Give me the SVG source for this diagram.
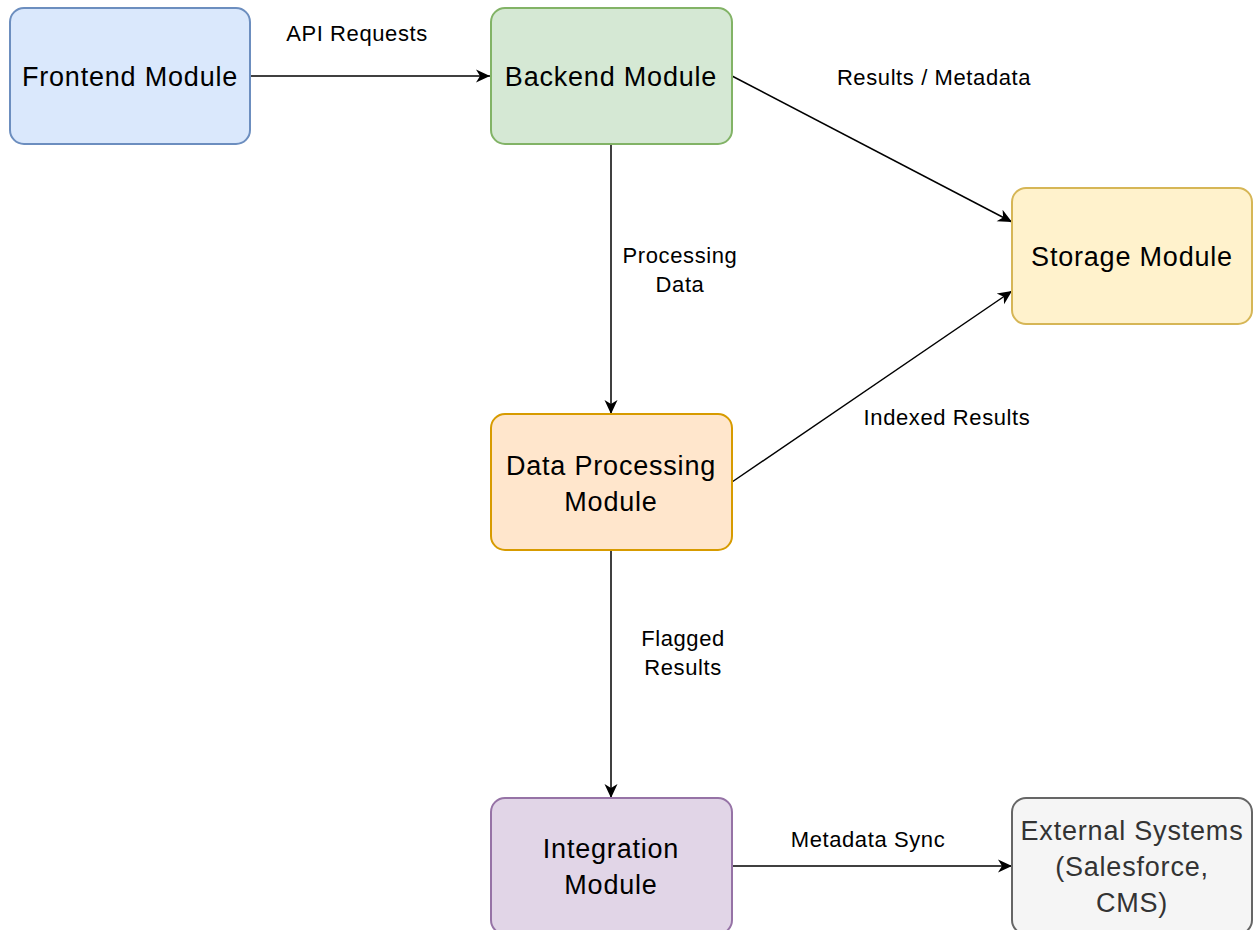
<svg xmlns="http://www.w3.org/2000/svg" width="1255" height="930" viewBox="0 0 1255 930">
<style>
.node rect{stroke-width:2}
.nt{font-family:"Liberation Sans",Arial,Helvetica,sans-serif;font-size:27px;fill:#000;text-anchor:middle;letter-spacing:0.8px}
.el{font-family:"Liberation Sans",Arial,Helvetica,sans-serif;font-size:22px;fill:#000;text-anchor:middle;letter-spacing:0.6px}
.edge{fill:none;stroke:#000;stroke-width:1.5}
</style>
<defs>
<marker id="arr" markerUnits="userSpaceOnUse" markerWidth="16" markerHeight="16" viewBox="0 0 16 16" refX="14" refY="8" orient="auto">
<path d="M0,1.5 L14,8 L0,14.5 L4,8 z" fill="#000"/>
</marker>
</defs>
<rect width="1255" height="930" fill="#fff"/>
<g id="connectors">
<line class="edge" x1="250" y1="76" x2="490" y2="76" marker-end="url(#arr)"/>
<line class="edge" x1="732" y1="76" x2="1012" y2="222" marker-end="url(#arr)"/>
<line class="edge" x1="611" y1="144" x2="611" y2="414" marker-end="url(#arr)"/>
<line class="edge" x1="732" y1="482" x2="1012" y2="291" marker-end="url(#arr)"/>
<line class="edge" x1="611" y1="550" x2="611" y2="798" marker-end="url(#arr)"/>
<line class="edge" x1="732" y1="866" x2="1012" y2="866" marker-end="url(#arr)"/>
<text class="el" x="357" y="41">API Requests</text>
<text class="el" x="934" y="85">Results / Metadata</text>
<text class="el" x="680" y="263">Processing</text>
<text class="el" x="680" y="292">Data</text>
<text class="el" x="947" y="425">Indexed Results</text>
<text class="el" x="683" y="646">Flagged</text>
<text class="el" x="683" y="675">Results</text>
<text class="el" x="868" y="847">Metadata Sync</text>
</g>
<g id="frontend" class="node">
<rect x="10" y="8" width="240" height="136" rx="14" fill="#dae8fc" stroke="#6c8ebf"/>
<text class="nt" x="130" y="86">Frontend Module</text>
</g>
<g id="backend" class="node">
<rect x="491" y="8" width="241" height="136" rx="14" fill="#d5e8d4" stroke="#82b366"/>
<text class="nt" x="611" y="86">Backend Module</text>
</g>
<g id="storage" class="node">
<rect x="1012" y="188" width="240" height="136" rx="14" fill="#fff2cc" stroke="#d6b656"/>
<text class="nt" x="1132" y="266">Storage Module</text>
</g>
<g id="dataprocessing" class="node">
<rect x="491" y="414" width="241" height="136" rx="14" fill="#ffe6cc" stroke="#d79b00"/>
<text class="nt" x="611" y="475">Data Processing</text>
<text class="nt" x="611" y="511">Module</text>
</g>
<g id="integration" class="node">
<rect x="491" y="798" width="241" height="136" rx="14" fill="#e1d5e7" stroke="#9673a6"/>
<text class="nt" x="611" y="858">Integration</text>
<text class="nt" x="611" y="894">Module</text>
</g>
<g id="external" class="node">
<rect x="1012" y="798" width="240" height="136" rx="14" fill="#f5f5f5" stroke="#666666"/>
<text class="nt" x="1132" y="840" style="fill:#333333">External Systems</text>
<text class="nt" x="1132" y="876" style="fill:#333333">(Salesforce,</text>
<text class="nt" x="1132" y="912" style="fill:#333333">CMS)</text>
</g>
</svg>
